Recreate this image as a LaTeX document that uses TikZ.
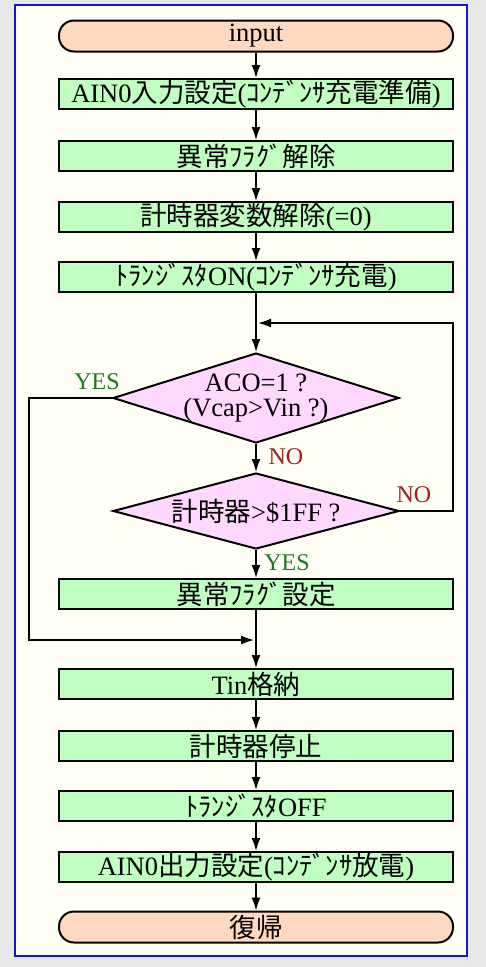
\documentclass[tikz,border=0pt]{standalone}
\usepackage{fontspec}
\setmainfont{Liberation Serif}
\newfontfamily\jp{Noto Sans CJK JP}
\usetikzlibrary{shapes.geometric,arrows.meta}
\definecolor{outerbg}{RGB}{232,232,232}
\definecolor{panelbg}{RGB}{255,255,245}
\definecolor{panelborder}{RGB}{20,20,210}
\definecolor{termfill}{RGB}{255,216,192}
\definecolor{procfill}{RGB}{192,255,192}
\definecolor{decfill}{RGB}{255,216,255}
\definecolor{yescol}{RGB}{30,120,30}
\definecolor{nocol}{RGB}{160,30,30}
\tikzset{
  boxfont/.style={font=\fontsize{26.5}{28}\selectfont},
  term/.style={draw=black, line width=2pt, fill=termfill, rounded corners=15pt,
    minimum width=394pt, minimum height=31pt, inner sep=0pt, boxfont},
  proc/.style={draw=black, line width=2pt, fill=procfill,
    minimum width=394pt, minimum height=30pt, inner sep=0pt, boxfont},
  dec/.style={draw=black, line width=2pt, fill=decfill, diamond, aspect=3,
    minimum width=286pt, inner sep=0pt},
  dectext/.style={boxfont, align=center, inner sep=0pt},
  conn/.style={line width=1.5pt, draw=black},
  arr/.style={conn, -{Latex[length=13pt,width=9pt]}},
  yeslab/.style={text=yescol, font=\fontsize{24}{26}\selectfont, inner sep=0pt},
  nolab/.style={text=nocol, font=\fontsize{24}{26}\selectfont, inner sep=0pt}
}
\begin{document}
\begin{tikzpicture}[x=1pt,y=-1pt]
\fill[outerbg] (0,0) rectangle (486,967);
\useasboundingbox (0,0) rectangle (486,967);
\draw[panelborder, fill=panelbg, line width=2pt] (15,5) rectangle (467,956);

\node[term] (t1) at (256,36) {input};
\node[proc] (b1) at (256,94) {AIN0{\jp 入力設定}({\jp ｺﾝﾃﾞﾝｻ充電準備})};
\node[proc] (b2) at (256,156) {\jp 異常ﾌﾗｸﾞ解除};
\node[proc] (b3) at (256,217) {{\jp 計時器変数解除}(=0)};
\node[proc] (b4) at (256,277) {{\jp ﾄﾗﾝｼﾞｽﾀ}ON({\jp ｺﾝﾃﾞﾝｻ充電})};
\node[dec, minimum height=90pt,
  label={[dectext]center:ACO=1 ?\\[-3pt](Vcap>Vin ?)}] (d1) at (256,398) {};
\node[dec, minimum height=76pt,
  label={[dectext]center:{\jp 計時器}>\$1FF ?}] (d2) at (256,511) {};
\node[proc] (b5) at (256,594) {\jp 異常ﾌﾗｸﾞ設定};
\node[proc] (b6) at (256,684) {Tin{\jp 格納}};
\node[proc] (b7) at (256,746) {\jp 計時器停止};
\node[proc] (b8) at (256,806) {{\jp ﾄﾗﾝｼﾞｽﾀ}OFF};
\node[proc] (b9) at (256,867) {AIN0{\jp 出力設定}({\jp ｺﾝﾃﾞﾝｻ放電})};
\node[term] (t2) at (256,927) {\jp 復帰};

\coordinate (jr) at (258,323);
\coordinate (nr1) at (453,511);
\coordinate (nr2) at (453,323);
\coordinate (yl1) at (29,398);
\coordinate (yl2) at (29,640);
\coordinate (ml) at (254,640);

\draw[arr] (t1) -- (b1);
\draw[arr] (b1) -- (b2);
\draw[arr] (b2) -- (b3);
\draw[arr] (b3) -- (b4);
\draw[arr] (b4) -- (d1);
\draw[arr] (d1) -- (d2);
\draw[arr] (d2) -- (b5);
\draw[arr] (b5) -- (b6);
\draw[arr] (b6) -- (b7);
\draw[arr] (b7) -- (b8);
\draw[arr] (b8) -- (b9);
\draw[arr] (b9) -- (t2);
\draw[arr] (d2.east) -- (nr1) -- (nr2) -- (jr);
\draw[arr] (d1.west) -- (yl1) -- (yl2) -- (ml);

\node[yeslab] (yes1) at (97,382) {YES};
\node[nolab] (no1) at (286,457) {NO};
\node[nolab] (no2) at (414,495) {NO};
\node[yeslab] (yes2) at (287,563) {YES};
\end{tikzpicture}
\end{document}
